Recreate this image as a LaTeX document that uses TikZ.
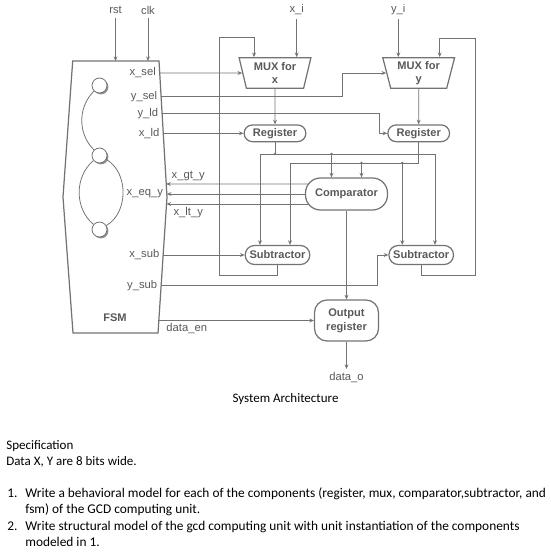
\documentclass[tikz,border=0pt]{standalone}
\usepackage{fontspec}
\setmainfont{Carlito}
\newfontfamily\diafont{Liberation Sans}
\usetikzlibrary{arrows.meta,positioning,calc,shapes.geometric,shadows}
\definecolor{linegray}{gray}{0.45}
\definecolor{ink}{gray}{0.35}

\begin{document}
\begin{tikzpicture}[>={Stealth[length=2.6pt,width=2.2pt]},font=\diafont\fontsize{6.4}{7.6}\selectfont,x=1.000cm,y=1.000cm,
 sig/.style={draw=linegray,line width=0.45pt},
 outline/.style={draw=linegray,line width=0.7pt},
 blk/.style={outline,rectangle,align=center,inner sep=1pt,text=ink,font=\diafont\bfseries\fontsize{6.3}{7.8}\selectfont},
 mux/.style={blk,trapezium,trapezium left angle=104,trapezium right angle=104,trapezium stretches=true,minimum width=1.440cm,minimum height=0.612cm,inner sep=0pt},
 regbox/.style={blk,rounded corners=0.165cm,minimum width=1.234cm,minimum height=0.334cm},
 subbox/.style={blk,rounded corners=0.185cm,minimum width=1.290cm,minimum height=0.380cm},
 port/.style={anchor=east,inner sep=2pt,text=ink},
 lbl/.style={inner sep=2pt,text=ink},
 state/.style={circle,draw=linegray,line width=0.45pt,fill=white,minimum size=0.300cm,inner sep=0pt,drop shadow={shadow xshift=0.8pt,shadow yshift=-0.8pt,fill=black!55,opacity=0.8}},
 dot/.style={circle,fill=linegray,inner sep=0pt,minimum size=1.6pt},
 doc/.style={font=\fontsize{7.4}{9.1}\selectfont,text=black,inner sep=0pt,align=left},
 item/.style={doc,font=\fontsize{7.6}{9.1}\selectfont}]
\useasboundingbox (0.000,0.000) rectangle (11.000,-11.060);
\coordinate (fsm-nw) at (1.454,-1.220);
\coordinate (fsm-ne) at (3.180,-1.220);
\coordinate (fsm-e) at (3.340,-3.940);
\coordinate (fsm-se) at (3.160,-6.660);
\coordinate (fsm-sw) at (1.460,-6.660);
\coordinate (fsm-w) at (1.260,-3.940);
\draw[outline] (fsm-nw) -- (fsm-ne) -- (fsm-e) -- (fsm-se) -- (fsm-sw) -- (fsm-w) -- cycle;
\node[blk,draw=none] (fsm) at (2.300,-6.360) {FSM};
\node[state] (s1) at (1.990,-1.710) {};
\node[state] (s2) at (1.990,-3.110) {};
\node[state] (s3) at (1.990,-4.590) {};
\draw[sig] (s1) to[bend right=45] (s2);
\draw[sig] (s2) to[bend right=50] (s3);
\draw[sig] (s2) to[bend left=60] (s3);
\node[lbl] (rst) at (2.310,-0.200) {rst};
\node[lbl] (clk) at (2.960,-0.200) {clk};
\node[lbl] (xin) at (5.934,-0.200) {x\_i};
\node[lbl] (yin) at (7.966,-0.200) {y\_i};
\draw[sig,->] (rst) -- (rst |- fsm-nw);
\draw[sig,->] (clk) -- (clk |- fsm-nw);
\node[mux] (muxx) at (5.500,-1.460) {MUX for\\x};
\node[mux] (muxy) at (8.374,-1.460) {MUX for\\y};
\node[regbox] (regx) at (5.500,-2.666) {Register};
\node[regbox] (regy) at (8.374,-2.666) {Register};
\node[blk,rounded corners=0.300cm,minimum width=1.640cm,minimum height=0.640cm] (comp) at (6.930,-3.880) {Comparator};
\node[subbox] (subx) at (5.550,-5.100) {Subtractor};
\node[subbox] (suby) at (8.424,-5.100) {Subtractor};
\node[blk,rounded corners=0.250cm,minimum width=1.280cm,minimum height=0.820cm] (outreg) at (6.930,-6.410) {Output\\register};
\node[lbl] (dout) at (6.930,-7.560) {data\_o};
\draw[sig,->] (xin) -- (xin |- muxx.north);
\draw[sig,->] (yin) -- (yin |- muxy.north);
\coordinate (p-xsel) at (3.194,-1.460);
\coordinate (p-ysel) at (3.222,-1.930);
\coordinate (p-yld) at (3.242,-2.270);
\coordinate (p-xld) at (3.266,-2.666);
\coordinate (p-gt) at (3.324,-3.680);
\coordinate (p-eq) at (3.336,-3.880);
\coordinate (p-lt) at (3.330,-4.080);
\coordinate (p-xsub) at (3.264,-5.100);
\coordinate (p-ysub) at (3.222,-5.710);
\coordinate (p-den) at (3.176,-6.410);
\node[port] (l-xsel) at (p-xsel) {x\_sel};
\node[port] (l-ysel) at (p-ysel) {y\_sel};
\node[port] (l-yld) at (p-yld) {y\_ld};
\node[port] (l-xld) at (p-xld) {x\_ld};
\node[port] (l-eq) at (p-eq) {x\_eq\_y};
\node[port] (l-xsub) at (p-xsub) {x\_sub};
\node[port] (l-ysub) at (p-ysub) {y\_sub};
\draw[sig,->] (p-xsel) -- (muxx.west);
\coordinate (ysel-b) at (6.840,-1.930);
\draw[sig,->] (p-ysel) -- (ysel-b) |- (muxy.west);
\coordinate (yld-b) at (7.580,-2.270);
\draw[sig,->] (p-yld) -- (yld-b) |- (regy.west);
\draw[sig,->] (p-xld) -- (regx.west);
\draw[sig,->] (muxx.south) -- (regx.north);
\draw[sig,->] (muxy.south) -- (regy.north);
\coordinate (xbus-l) at (5.200,-3.080);
\coordinate (xbus-r) at (8.700,-3.080);
\coordinate (ybus-l) at (5.800,-3.260);
\coordinate (cmp-a) at ($(comp.north)+(-0.300,0)$);
\coordinate (cmp-b) at ($(comp.north)+(0.300,0)$);
\coordinate (suby-a) at ($(suby.north)+(-0.378,0)$);
\draw[sig] (regx.south) -- (regx.south |- xbus-l);
\draw[sig,<->] (xbus-l |- subx.north) -- (xbus-l) -- (xbus-r) -- (xbus-r |- suby.north);
\draw[sig,->] (cmp-a |- xbus-l) -- (cmp-a);
\draw[sig] (regy.south) |- (ybus-l);
\draw[sig,->] (ybus-l) -- (ybus-l |- subx.north);
\draw[sig,->] (cmp-b |- ybus-l) -- (cmp-b);
\draw[sig,->] (suby-a |- ybus-l) -- (suby-a);
\node[dot] (j1) at (regx.south |- xbus-l) {};
\node[dot] (j2) at (cmp-a |- xbus-l) {};
\node[dot] (j3) at (cmp-b |- ybus-l) {};
\node[dot] (j4) at (suby-a |- ybus-l) {};
\coordinate (fbx) at (4.380,-0.754);
\coordinate (fby) at (9.500,-0.760);
\draw[sig,->] (subx.south) -- ++(0,-0.210) -| (fbx) -| ($(muxx.north)+(-0.420,0)$);
\draw[sig,->] (suby.south) -- ++(0,-0.196) -| (fby) -| ($(muxy.north)+(0.420,0)$);
\coordinate (cmp-gt) at ($(comp.west)+(0.060,0.200)$);
\coordinate (cmp-lt) at ($(comp.west)+(0.060,-0.200)$);
\draw[sig,->] (cmp-gt) -- (p-gt);
\draw[sig,->] (comp.west) -- (p-eq);
\draw[sig,->] (cmp-lt) -- (p-lt);
\node[lbl] (l-gt) at (3.766,-3.520) {x\_gt\_y};
\node[lbl] (l-lt) at (3.766,-4.246) {x\_lt\_y};
\draw[sig,->] (p-xsub) -- (subx.west);
\coordinate (ysub-b) at (7.550,-5.710);
\draw[sig,->] (p-ysub) -- (ysub-b) |- (suby.west);
\draw[sig,->] (comp.south) -- (outreg.north);
\draw[sig,->] (p-den) -- (outreg.west);
\node[lbl] (l-den) at (3.734,-6.566) {data\_en};
\draw[sig,->] (outreg.south) -- (dout);
\node[doc,anchor=base] (arch) at (5.710,-8.056) {System Architecture};
\node[doc,anchor=base west] (spec) at (0.120,-9.310) {Specification\\Data X, Y are 8 bits wide.};
\node[item,anchor=base west] (n1) at (0.140,-9.950) {1.};
\node[item,anchor=base west] (t1) at (0.500,-10.270) {Write a behavioral model for each of the components (register, mux, comparator,subtractor, and\\fsm) of the GCD computing unit.};
\node[item,anchor=base west] (n2) at (0.140,-10.610) {2.};
\node[item,anchor=base west] (t2) at (0.500,-10.930) {Write structural model of the gcd computing unit with unit instantiation of the components\\modeled in 1.};
\end{tikzpicture}
\end{document}
